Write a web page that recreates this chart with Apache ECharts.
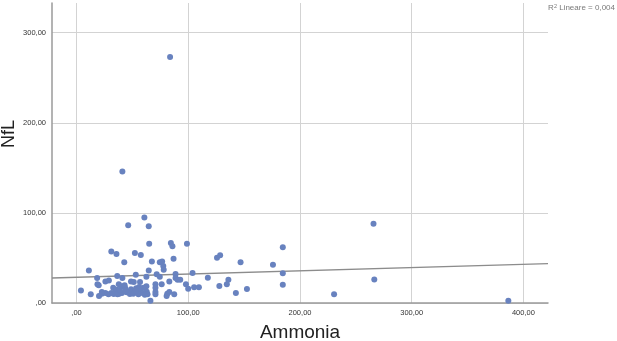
<!DOCTYPE html>
<html>
<head>
<meta charset="utf-8">
<script src="https://cdn.jsdelivr.net/npm/echarts@6/dist/echarts.min.js"></script>
<style>html,body{margin:0;padding:0;background:#fff;}#c{width:617px;height:341px;}</style>
</head>
<body>
<div id="c"></div>
<script>
// Data
const ammonia = [83.7,41,60.7,46.2,64.6,265.8,65,84.4,85.8,98.8,184.6,31.1,35.7,52.2,57.5,125.7,128.5,86.8,42.7,67.4,74.5,76.6,77.6,78,146.8,175.8,11,64.6,36.4,41,53,62.5,71.7,74.5,88.6,103.8,184.6,18.4,117.5,135.9,88.6,90.4,92.8,266.5,25.8,28.9,48.7,51.2,56.8,83,18.7,19.8,37.8,40.2,70.6,76.2,97.9,134.5,184.6,127.8,105.2,109.5,99.9,152.5,3.9,32.8,35.7,43.4,48.7,53.3,60,62.5,70.6,22.6,25.8,31.1,34.6,38.1,44.8,47.7,54.4,57.2,59,62.8,70.6,12.7,20.1,22.6,28.6,33.2,36.7,40.6,50.8,55.4,61.1,63.5,70.6,81.2,83,80.6,87.4,142.6,230.5,66.1,386.5,43,38.8,56,44,53];
const nfl = [273,146,94.8,86.3,85.2,88,65.9,66.6,62.9,65.9,61.8,57.3,54.3,55.5,53.2,50.3,52.9,49.2,45.1,46.2,45.1,46.2,41,37,45.1,42.5,36.2,36.2,30,27.7,31.4,29.2,31.8,29.2,32.2,33.3,32.9,27.7,28.1,25.9,27.7,25.9,25.9,26.2,24,25.1,24,23.3,23.3,24,20.7,19.6,20.7,18.5,20.7,20.7,20.7,20.7,20.3,18.9,17.4,17.4,15.9,15.5,14,17,14.8,17,15.2,16.3,17,18.5,17,12.2,11.1,11.1,12.9,10.4,11.8,10,11.8,13.3,11.1,12.6,12.2,9.6,7.8,10.4,9.6,10,9.6,11.1,10.4,9.6,9.2,9.6,9.6,10.4,12.2,7.8,9.6,11.1,9.6,2.6,2.6,19.6,14.8,17.7,14,14];
const xTickValues = [0, 100, 200, 300, 400];
const xTickLabels = [',00', '100,00', '200,00', '300,00', '400,00'];
const yTickValues = [0, 100, 200, 300];
const yTickLabels = [',00', '100,00', '200,00', '300,00'];
const fitIntercept = 28.5;
const fitSlope = 0.036;
const rSquared = '0,004';
const xRange = [-22, 422];
const yRange = [0, 333];

const points = ammonia.map((a, i) => [a, nfl[i]]);
const fitLine = xRange.map(x => [x, fitIntercept + fitSlope * x]);

const chart = echarts.init(document.getElementById('c'), null, {renderer: 'canvas'});
chart.setOption({
  animation: false,
  backgroundColor: '#ffffff',
  textStyle: {fontFamily: 'Liberation Sans, Arial, sans-serif'},
  title: {
    right: 2, top: 3, padding: 0,
    text: '{a|R}{s|2}{a| Lineare = ' + rSquared + '}',
    textStyle: {
      fontWeight: 'normal',
      overflow: 'none',
      rich: {
        a: {fontSize: 8, color: '#7a7a7a', fontWeight: 'normal', fontFamily: 'Liberation Sans'},
        s: {fontSize: 5.5, color: '#7a7a7a', fontWeight: 'normal', verticalAlign: 'top', padding: [0,0,4,0], fontFamily: 'Liberation Sans'}
      }
    }
  },
  graphic: [{
    type: 'text', x: 9, y: 134, rotation: Math.PI / 2,
    style: {text: 'NfL', fill: '#222', font: '18px "Liberation Sans", Arial, sans-serif', align: 'center', verticalAlign: 'middle'}
  }],
  grid: {left: 52, right: 69, top: 3, bottom: 38, containLabel: false, outerBoundsMode: 'none'},
  xAxis: {
    type: 'value', min: xRange[0], max: xRange[1],
    name: 'Ammonia', nameLocation: 'middle', nameGap: 20,
    nameTextStyle: {fontSize: 19, color: '#222', fontFamily: 'Liberation Sans'},
    axisLine: {show: true, onZero: false, lineStyle: {color: '#9a9a9a', width: 1.5}},
    axisTick: {show: false, customValues: xTickValues},
    axisLabel: {customValues: xTickValues, fontSize: 7.5, color: '#333', margin: 6,
      formatter: v => xTickLabels[xTickValues.indexOf(v)]},
    splitLine: {show: true, lineStyle: {color: '#d3d3d3', width: 1}}
  },
  yAxis: {
    type: 'value', min: yRange[0], max: yRange[1],
    axisLine: {show: true, onZero: false, lineStyle: {color: '#9a9a9a', width: 1.5}},
    axisTick: {show: false, customValues: yTickValues},
    axisLabel: {customValues: yTickValues, fontSize: 7.5, color: '#333', margin: 6,
      formatter: v => yTickLabels[yTickValues.indexOf(v)]},
    splitLine: {show: true, lineStyle: {color: '#d3d3d3', width: 1}}
  },
  series: [
    {
      type: 'line', data: fitLine, symbol: 'none', silent: true,
      lineStyle: {color: '#8c8c8c', width: 1.4}, z: 1
    },
    {
      type: 'scatter', data: points, symbolSize: 6,
      itemStyle: {color: '#6882bf', opacity: 1}, z: 2
    }
  ]
});
</script>
</body>
</html>
